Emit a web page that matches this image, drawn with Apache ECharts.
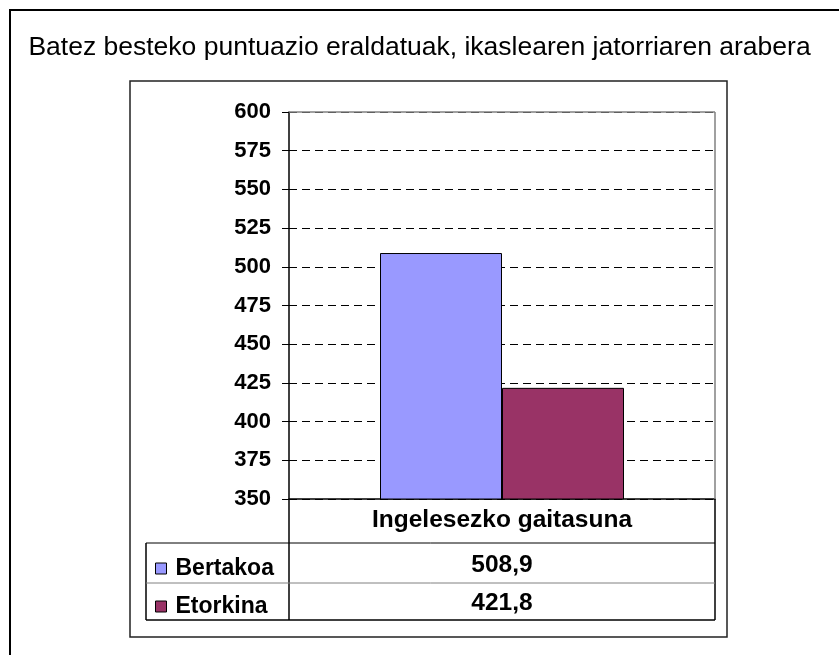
<!DOCTYPE html>
<html>
<head>
<meta charset="utf-8">
<script src="https://cdn.jsdelivr.net/npm/echarts@6/dist/echarts.min.js"></script>
<style>
  html, body { margin: 0; padding: 0; background: #fff; }
  #chart { width: 839px; height: 655px; }
</style>
</head>
<body>
<div id="chart"></div>
<script>
// data
const titleText = "Batez besteko puntuazio eraldatuak, ikaslearen jatorriaren arabera";
const categories = ["Ingelesezko gaitasuna"];
const seriesNames = ["Bertakoa", "Etorkina"];
const bertakoa = [508.9];
const etorkina = [421.8];
const yTicks = [350, 375, 400, 425, 450, 475, 500, 525, 550, 575, 600];

const colors = ["#9999FF", "#993366"];
const font = "'Liberation Sans', Arial, sans-serif";

// plot area edges (px)
const plotL = 289, plotR = 715, plotT = 112, plotB = 499;
const rowTop = 543, rowMid = 583, rowBot = 620, legL = 146;

const fmt = v => String(v).replace(".", ",");

const chart = echarts.init(document.getElementById("chart"));

const line = (x1, y1, x2, y2, color, w) => ({
  type: "line",
  z: 100,
  shape: { x1, y1, x2, y2 },
  style: { stroke: color || "#000", lineWidth: w || 1 }
});

const valueText = (txt, y) => ({
  type: "text",
  z: 100,
  x: (plotL + plotR) / 2,
  y: y,
  style: {
    text: txt,
    font: "bold 24.5px " + font,
    fill: "#000",
    align: "center",
    verticalAlign: "middle"
  }
});

const option = {
  animation: false,
  backgroundColor: "#fff",
  title: {
    text: titleText,
    left: "center",
    top: 29,
    textStyle: { fontFamily: font, fontWeight: "normal", fontSize: 26.5, color: "#000" }
  },
  legend: {
    orient: "vertical",
    left: 150,
    top: 552,
    itemWidth: 11,
    itemHeight: 11,
    itemGap: 15,
    icon: "rect",
    data: seriesNames,
    itemStyle: { borderColor: "#000", borderWidth: 1 },
    textStyle: {
      fontFamily: font, fontWeight: "bold", fontSize: 23, color: "#000",
      lineHeight: 23, padding: [0, 0, 0, 4]
    }
  },
  grid: {
    left: plotL,
    right: 839 - plotR,
    top: plotT,
    bottom: 655 - plotB,
    show: false
  },
  xAxis: {
    type: "category",
    data: categories,
    axisLine: { lineStyle: { color: "#000", width: 1.5 } },
    axisTick: { show: false },
    axisLabel: {
      margin: 9,
      fontFamily: font,
      fontWeight: "bold",
      fontSize: 24.5,
      color: "#000"
    }
  },
  yAxis: {
    type: "value",
    min: yTicks[0],
    max: yTicks[yTicks.length - 1],
    interval: 25,
    axisLine: { show: true, lineStyle: { color: "#000", width: 1.5 } },
    axisTick: { show: true, inside: false, length: 7, lineStyle: { color: "#000" } },
    axisLabel: {
      margin: 18,
      fontFamily: font,
      fontWeight: "bold",
      fontSize: 22,
      color: "#000"
    },
    splitLine: { show: true, lineStyle: { color: "#000", type: [8, 5], width: 1 } }
  },
  series: [
    {
      name: seriesNames[0],
      type: "bar",
      data: bertakoa,
      barWidth: 122,
      barGap: "0%",
      itemStyle: { color: colors[0], borderColor: "#000", borderWidth: 1 }
    },
    {
      name: seriesNames[1],
      type: "bar",
      data: etorkina,
      barWidth: 122,
      itemStyle: { color: colors[1], borderColor: "#000", borderWidth: 1 }
    }
  ],
  graphic: [
    // outer frame
    { type: "rect", z: 100, shape: { x: 10, y: 10, width: 845, height: 660 },
      style: { fill: null, stroke: "#000", lineWidth: 2 } },
    // chart area box
    { type: "rect", z: 100, shape: { x: 130, y: 81, width: 597, height: 556 },
      style: { fill: null, stroke: "#222", lineWidth: 1.5 } },
    // plot border top / right
    line(plotL, plotT, plotR, plotT, "#808080", 1.5),
    line(plotR, plotT, plotR, plotB, "#808080", 1.5),
    // data table
    line(plotL, plotB, plotL, rowBot, "#000", 1.5),
    line(plotR, plotB, plotR, rowBot, "#000", 1.5),
    line(legL, rowTop, legL, rowBot, "#000", 1.5),
    line(legL, rowTop, plotR, rowTop, "#000", 1),
    line(legL, rowMid, plotR, rowMid, "#808080", 1),
    line(legL, rowBot, plotR, rowBot, "#000", 1.5),
    valueText(fmt(bertakoa[0]), (rowTop + rowMid) / 2 + 2),
    valueText(fmt(etorkina[0]), (rowMid + rowBot) / 2 + 2)
  ]
};

chart.setOption(option);
</script>
</body>
</html>
